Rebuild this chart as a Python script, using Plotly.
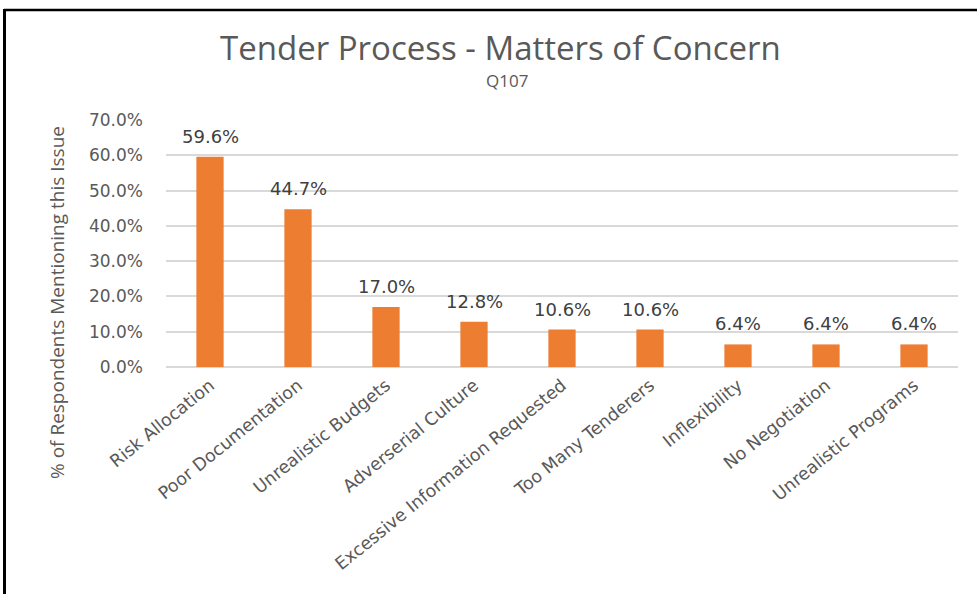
import plotly.graph_objects as go

categories = ["Risk Allocation", "Poor Documentation", "Unrealistic Budgets",
              "Adverserial Culture", "Excessive Information Requested",
              "Too Many Tenderers", "Inflexibility", "No Negotiation",
              "Unrealistic Programs"]
values = [59.6, 44.7, 17.0, 12.8, 10.6, 10.6, 6.4, 6.4, 6.4]
tick_vals = [0, 10, 20, 30, 40, 50, 60, 70]
tick_text = ["0.0%", "10.0%", "20.0%", "30.0%", "40.0%", "50.0%", "60.0%", "70.0%"]

W, H = 977, 594
L, R, T, B = 166, 958, 120, 367  # plot area in pixels


def px(x):
    return (x - L) / (R - L)


def py(y):
    return (B - y) / (B - T)


GRAY = "#595959"
fig = go.Figure(go.Bar(
    x=categories, y=values,
    marker=dict(color="#ED7D31", line=dict(width=0)),
    cliponaxis=False,
    hoverinfo="skip",
))

value_labels = [dict(x=c, y=v, xref="x", yref="y", text=f"{v:.1f}%",
                     xanchor="center", yanchor="bottom", yshift=8,
                     showarrow=False,
                     font=dict(family="DejaVu Sans", size=18, color="#404040"))
                for c, v in zip(categories, values)]

fig.update_layout(
    width=W, height=H,
    margin=dict(l=L, r=W - R, t=T, b=H - B, autoexpand=False),
    paper_bgcolor="white", plot_bgcolor="white",
    bargap=0.69,
    showlegend=False,
    xaxis=dict(tickangle=-39, tickfont=dict(family="DejaVu Sans", size=17.5, color=GRAY),
               showgrid=False, showline=False, ticks="", ticklabelstandoff=4),
    yaxis=dict(range=[0, 70], tickvals=tick_vals, ticktext=tick_text,
               tickfont=dict(family="DejaVu Sans", size=17, color=GRAY),
               showgrid=True, gridcolor="#d9d9d9", gridwidth=1.5,
               zeroline=True, zerolinecolor="#d9d9d9", zerolinewidth=1.5,
               showline=False, ticks="", ticklabelstandoff=22),
    annotations=value_labels + [
        dict(text="Tender Process - Matters of Concern", x=px(500), y=py(47),
             xref="paper", yref="paper", xanchor="center", yanchor="middle",
             showarrow=False, font=dict(family="Open Sans", size=33, color=GRAY)),
        dict(text="Q107", x=px(507), y=py(80), xref="paper", yref="paper",
             xanchor="center", yanchor="middle", showarrow=False,
             font=dict(family="Open Sans", size=17, color=GRAY)),
        dict(text="% of Respondents Mentioning this Issue", x=px(57), y=py(303),
             xref="paper", yref="paper", xanchor="center", yanchor="middle",
             textangle=-90, showarrow=False,
             font=dict(family="Open Sans", size=19, color=GRAY)),
    ],
    shapes=[
        dict(type="line", xref="paper", yref="paper", x0=px(4), x1=px(1000),
             y0=py(10), y1=py(10), line=dict(color="black", width=2.5)),
        dict(type="line", xref="paper", yref="paper", x0=px(4.5), x1=px(4.5),
             y0=py(9), y1=py(620), line=dict(color="black", width=3)),
    ],
)

fig.write_html("out.html", config={"displayModeBar": False},
               post_script="document.body.style.margin='0px';")
